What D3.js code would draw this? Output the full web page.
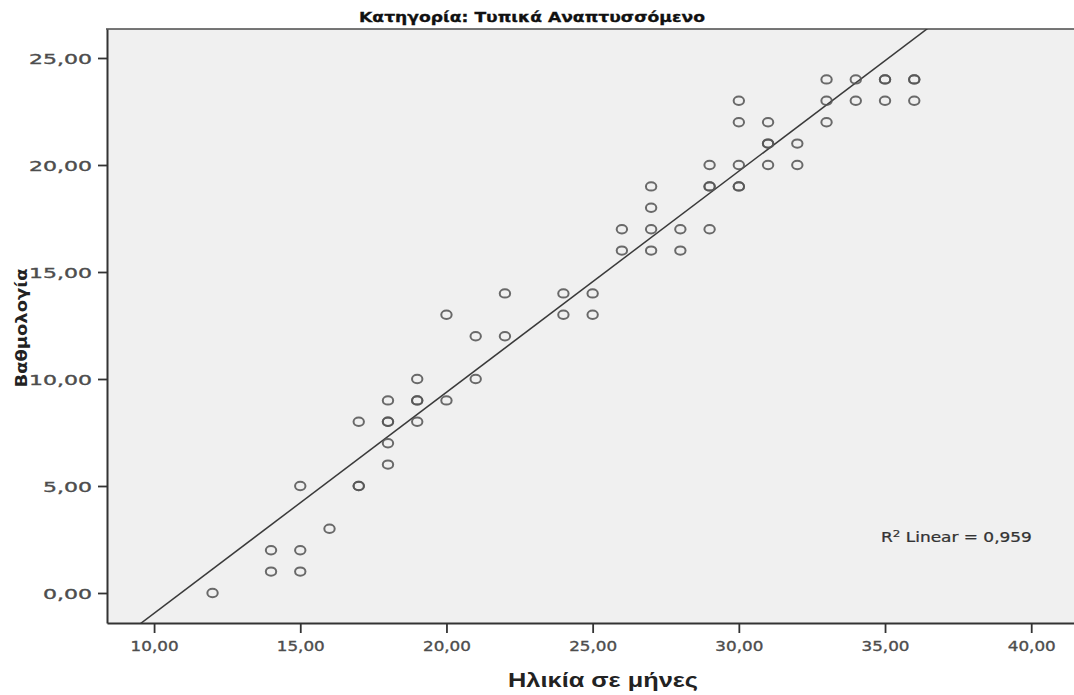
<!DOCTYPE html>
<html><head><meta charset="utf-8">
<script src="https://cdn.jsdelivr.net/npm/d3@7"></script>
<style>body{margin:0;background:#fff;overflow:hidden}</style>
</head><body>
<svg id="c" width="1074" height="695"></svg>
<script>
// ---- data ----
const ageGroups   = [12,14,15,16,17,18,19,20,21,22,24,25,26,27,28,29,30,31,32,33,34,35,36];
const scoresByAge = [[0],[1,2],[1,2,5],[3],[5,5,8],[6,7,8,8,9],[8,9,9,10],[9,13],[10,12],[12,14],
                     [13,14],[13,14],[16,17],[16,17,18,19],[16,17],[17,19,19,20],[19,19,20,22,23],
                     [20,21,21,22],[20,21],[22,23,24],[23,24],[23,24,24],[23,24,24]];
const xTicks = [10,15,20,25,30,35,40];
const yTicks = [0,5,10,15,20,25];
const fitSlope = 1.033, fitIntercept = -11.28;
const rSquaredLabel = "0,959";
const titleText = "Κατηγορία: Τυπικά Αναπτυσσόμενο";
const xTitleText = "Ηλικία σε μήνες";
const yTitleText = "Βαθμολογία";

const points = [];
ageGroups.forEach((a,i)=>scoresByAge[i].forEach(s=>points.push({x:a,y:s})));

const svg = d3.select('#c');
const L=107, R=1078, T=29, B=623;
const x = d3.scaleLinear().domain([8.39, 41.6]).range([L, R]);
const y = d3.scaleLinear().domain([-1.402, 26.355]).range([B, T]);
const loc = d3.formatLocale({decimal:",", thousands:".", grouping:[3], currency:["","€"]});
const fmt = loc.format(".2f");

function fitW(sel, target){
  const w = sel.node().getBBox().width;
  return target / w;
}

// plot background
svg.append('rect').attr('x',L).attr('y',T).attr('width',R-L).attr('height',B-T).attr('fill','#f0f0f0');
svg.append('line').attr('x1',L-1).attr('x2',R).attr('y1',T).attr('y2',T).attr('stroke','#4a4a4a').attr('stroke-width',1.6);

// clip
svg.append('clipPath').attr('id','clp').append('rect').attr('x',L).attr('y',T).attr('width',R-L).attr('height',B-T);

// fit line
const xd = x.domain();
svg.append('line').attr('clip-path','url(#clp)')
  .attr('x1',x(xd[0])).attr('y1',y(fitSlope*xd[0]+fitIntercept))
  .attr('x2',x(xd[1])).attr('y2',y(fitSlope*xd[1]+fitIntercept))
  .attr('stroke','#3a3a3a').attr('stroke-width',1.5);

// points
svg.append('g').selectAll('ellipse').data(points).join('ellipse')
  .attr('cx',d=>x(d.x)).attr('cy',d=>y(d.y)).attr('rx',5.2).attr('ry',4.2)
  .attr('fill','none').attr('stroke','#555').attr('stroke-width',2).attr('stroke-opacity',0.88);

// axes
const gy = svg.append('g').attr('transform',`translate(${L},0)`)
  .call(d3.axisLeft(y).tickValues(yTicks).tickSize(9).tickSizeOuter(0).tickFormat(fmt));
const gx = svg.append('g').attr('transform',`translate(0,${B})`)
  .call(d3.axisBottom(x).tickValues(xTicks).tickSize(10).tickSizeOuter(0).tickFormat(fmt));
[gx,gy].forEach(g=>{
  g.select('.domain').attr('stroke','#333').attr('stroke-width',2);
  g.selectAll('.tick line').attr('stroke','#333').attr('stroke-width',1.8);
  g.selectAll('.tick text').attr('font-family','DejaVu Sans').attr('font-size',14).attr('fill','#4d4d4d')
    .attr('stroke','#4d4d4d').attr('stroke-width',0.35);
});
const sY = fitW(gy.select('.tick text'), 49);
gy.selectAll('.tick text').attr('x',0).attr('dy',null).attr('transform',`translate(-15,5.2) scale(${sY},1)`);
const sX = fitW(gx.select('.tick text'), 48);
gx.selectAll('.tick text').attr('y',0).attr('dy',null).attr('transform',`translate(0,27.5) scale(${sX},1)`);

// titles
const t = svg.append('text').text(titleText).attr('font-family','DejaVu Sans').attr('font-weight','bold')
  .attr('font-size',13.5).attr('fill','#111').attr('stroke','#111').attr('stroke-width',0.3).attr('text-anchor','middle');
t.attr('transform',`translate(532,22) scale(${fitW(t,346)},1)`);

const xt = svg.append('text').text(xTitleText).attr('font-family','Liberation Sans').attr('font-weight','bold')
  .attr('font-size',21).attr('fill','#222').attr('text-anchor','middle');
xt.attr('transform',`translate(603,687) scale(${fitW(xt,190)},1)`);

const yt = svg.append('text').text(yTitleText).attr('font-family','DejaVu Sans').attr('font-weight','bold')
  .attr('font-size',16.5).attr('fill','#222').attr('text-anchor','middle');
yt.attr('transform',`translate(27,328) rotate(-90) scale(${fitW(yt,119)},1)`);

// R² label
const rl = svg.append('text').attr('font-family','DejaVu Sans').attr('font-size',13.5).attr('fill','#333')
  .attr('stroke','#333').attr('stroke-width',0.25);
rl.append('tspan').text('R');
rl.append('tspan').text('2').attr('font-size',9.5).attr('dy',-5);
rl.append('tspan').text(' Linear = ' + rSquaredLabel).attr('dy',5);
rl.attr('transform',`translate(881,542) scale(${fitW(rl,151)},1)`);
</script>
</body></html>
